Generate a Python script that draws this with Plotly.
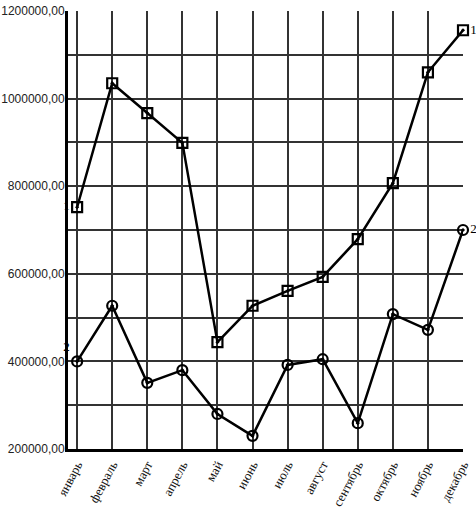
import plotly.graph_objects as go

months = ["январь", "февраль", "март", "апрель", "май", "июнь",
          "июль", "август", "сентябрь", "октябрь", "ноябрь", "декабрь"]
series_1 = [752000, 1035000, 967000, 899000, 444000, 527000,
            561000, 593000, 679000, 807000, 1060000, 1156000]
series_2 = [400000, 527000, 351000, 380000, 280000, 230000,
            392000, 405000, 259000, 508000, 472000, 700000]
labels_1 = ["1"] + [""] * 10 + ["1"]
labels_2 = ["2"] + [""] * 10 + ["2"]

fig = go.Figure()
fig.add_trace(go.Scatter(
    x=months, y=series_1, mode="lines+markers+text",
    text=labels_1, textposition=["middle left"] + ["middle right"] * 11,
    textfont=dict(family="Liberation Serif", size=13, color="black"),
    line=dict(color="black", width=2.5),
    marker=dict(symbol="square-open-dot", size=10, color="black", line=dict(width=2.2)),
    cliponaxis=False,
))
fig.add_trace(go.Scatter(
    x=months, y=series_2, mode="lines+markers+text",
    text=labels_2, textposition=["top left"] + ["middle right"] * 11,
    textfont=dict(family="Liberation Serif", size=13, color="black"),
    line=dict(color="black", width=2.5),
    marker=dict(symbol="circle-open-dot", size=10, color="black", line=dict(width=2.2)),
    cliponaxis=False,
))

fig.update_layout(
    width=476, height=508,
    margin=dict(l=68, r=13, t=11, b=59),
    plot_bgcolor="white", paper_bgcolor="white",
    showlegend=False,
    separators=", ",
    font=dict(family="Liberation Sans", size=12, color="#222"),
)
fig.update_xaxes(
    type="category", range=[-0.26, 11], automargin=False,
    showgrid=True, gridcolor="#333", gridwidth=1.5,
    showline=True, linecolor="black", linewidth=3,
    tickangle=-62, ticks="",
    tickfont=dict(family="Liberation Serif", size=13, color="#111"),
)
fig.update_yaxes(
    range=[200000, 1200000], dtick=200000, tickformat=".2f", automargin=False,
    showgrid=True, gridcolor="#333", gridwidth=1.5,
    minor=dict(dtick=100000, showgrid=True, gridcolor="#333", gridwidth=1.5),
    showline=True, linecolor="black", linewidth=3,
    ticks="", zeroline=False, ticklabelstandoff=-2, ticklabeloverflow="allow",
    tickfont=dict(family="Liberation Sans", size=12, color="#222"),
)

# drop the browser's default body margin so the figure sits at the page corner
fig.write_html("out.html", config={"displayModeBar": False},
               post_script="document.body.style.margin='0';")
